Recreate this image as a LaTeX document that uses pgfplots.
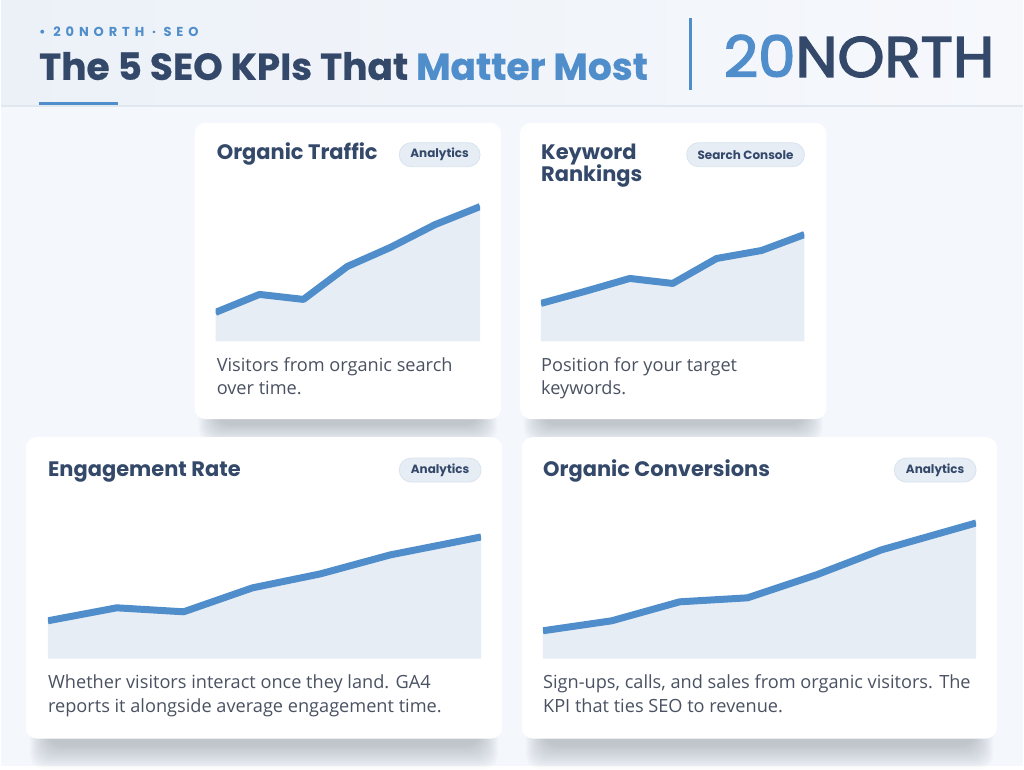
\documentclass[border=0pt]{standalone}
\usepackage{pgfplots}
\pgfplotsset{compat=1.18}
\usepackage{fontspec}
\setmainfont{Open Sans}
\newfontfamily\headfont{Poppins}
\newfontfamily\headfontls{Poppins}[LetterSpace=38]
\definecolor{bg}{HTML}{F4F7FB}
\definecolor{hdrL}{HTML}{ECF1F8}
\definecolor{hdrR}{HTML}{F6F8FC}
\definecolor{hdrline}{HTML}{E1E7EF}
\definecolor{navy}{HTML}{34496A}
\definecolor{blu}{HTML}{4F8DCB}
\definecolor{areac}{HTML}{E6EDF5}
\definecolor{pill}{HTML}{E6EDF5}
\definecolor{pillb}{HTML}{D9E3EE}
\definecolor{txt}{HTML}{4A5262}
\definecolor{shad}{HTML}{1E2A3A}
\pgfplotsset{
  kpi/.style={scale only axis, hide axis, anchor=south west, ymin=0,
    clip=true},
  kline/.style={color=blu, line width=7pt, line join=round, mark=none},
  karea/.style={fill=areac, draw=none, mark=none},
}
\tikzset{
  card/.style={fill=white, draw=none, rounded corners=11pt},
  pillst/.style={fill=pill, draw=pillb, line width=0.8pt, rounded corners=12pt, minimum height=24pt, inner sep=0pt,
    font=\headfont\bfseries\fontsize{12}{13}\selectfont, text=navy},
  ktitle/.style={anchor=base west, inner sep=0pt, font=\headfont\bfseries\fontsize{21}{24}\selectfont, text=navy},
  kdesc/.style={anchor=base west, inner sep=0pt, font=\fontsize{18.2}{22}\selectfont, text=txt},
}
% soft shadow below a card: #1 x0, #2 ybottom, #3 x1, #4 depth scale
\newcommand\cardshadow[4]{%
  \foreach \i in {0,...,14}{%
    \fill[shad, opacity=0.016, rounded corners=14pt]
      ({#1+22-\i*1.3},{#2-6*#4-\i*1.25*#4}) rectangle ({#3-22+\i*1.3},{#2+60});
  }}
\begin{document}
\begin{tikzpicture}[x=1pt,y=1pt]
% background
\fill[bg] (0,0) rectangle (1024,768);
\shade[left color=hdrL, right color=hdrR] (0,662) rectangle (1024,768);
\draw[hdrline, line width=2pt] (0,662) -- (1024,662);
\draw[blu, line width=3pt] (38,664) -- (117,664);
% header text
\node[anchor=west, inner sep=0pt, text=blu, font=\headfontls\bfseries\fontsize{13}{15}\selectfont] at (38,736) {• 20NORTH · SEO};
\node[anchor=base west, inner sep=0pt, text=navy] at (38,688) {\resizebox{610pt}{!}{\headfont\bfseries\fontsize{36}{40}\selectfont\addfontfeatures{FakeBold=0.6}The 5 SEO KPIs That \textcolor{blu}{Matter Most}}};
\draw[blu, line width=2.5pt] (691,750) -- (691,678);
\node[anchor=base west, inner sep=0pt, text=navy] at (724,691) {\resizebox{271pt}{42pt}{\headfont\fontsize{60}{64}\selectfont\addfontfeatures{FakeBold=2.5}\textcolor{blu}{20}NORTH}};
% shadows
\cardshadow{194}{348}{501}{1}
\cardshadow{520}{348}{827}{1}
\cardshadow{25}{28}{502}{1.3}
\cardshadow{522}{28}{998}{1.3}
% cards
\path[card] (194,348) rectangle (501,645);
\path[card] (520,348) rectangle (827,645);
\path[card] (25,28) rectangle (502,330);
\path[card] (522,28) rectangle (998,330);
% card 1
\begin{axis}[kpi, at={(215,426)}, width=265pt, height=150pt, xmin=215, xmax=480, ymax=150]
\addplot[karea] coordinates {(215,29) (259,47) (303,42) (347,75) (390,94) (435,117) (480,135)} \closedcycle;
\addplot[kline] coordinates {(215,29) (259,47) (303,42) (347,75) (390,94) (435,117) (480,135)};
\end{axis}
% card 2
\begin{axis}[kpi, at={(541,426)}, width=264pt, height=150pt, xmin=541, xmax=805, ymax=150]
\addplot[karea] coordinates {(541,38) (585,50) (630,63) (673,58) (717,83) (762,91) (805,107)} \closedcycle;
\addplot[kline] coordinates {(541,38) (585,50) (630,63) (673,58) (717,83) (762,91) (805,107)};
\end{axis}
% card 3
\begin{axis}[kpi, at={(47,108)}, width=434pt, height=160pt, xmin=47, xmax=481, ymax=160]
\addplot[karea] coordinates {(47,38) (116,51) (183,47) (252,71) (320,85) (390,104) (481,122)} \closedcycle;
\addplot[kline] coordinates {(47,38) (116,51) (183,47) (252,71) (320,85) (390,104) (481,122)};
\end{axis}
% card 4
\begin{axis}[kpi, at={(543,108)}, width=434pt, height=160pt, xmin=543, xmax=977, ymax=160]
\addplot[karea] coordinates {(543,28) (612,38) (680,57) (748,61) (817,84) (882,109) (977,136)} \closedcycle;
\addplot[kline] coordinates {(543,28) (612,38) (680,57) (748,61) (817,84) (882,109) (977,136)};
\end{axis}
% titles
\node[ktitle] at (216,608) {Organic Traffic};
\node[ktitle] at (541,608) {Keyword};
\node[ktitle] at (541,586) {Rankings};
\node[ktitle] at (47,291) {Engagement Rate};
\node[ktitle] at (543,291) {Organic Conversions};
% pills
\node[pillst, minimum width=81pt] at (439.5,613) {Analytics};
\node[pillst, minimum width=118pt] at (746,613) {Search Console};
\node[pillst, minimum width=82pt] at (440,297) {Analytics};
\node[pillst, minimum width=82pt] at (936,297) {Analytics};
% descriptions
\node[kdesc] at (216,396) {Visitors from organic search};
\node[kdesc] at (216,373) {over time.};
\node[kdesc] at (541,396) {Position for your target};
\node[kdesc] at (541,373) {keywords.};
\node[kdesc] at (47,78) {Whether visitors interact once they land. GA4};
\node[kdesc] at (47,54) {reports it alongside average engagement time.};
\node[kdesc] at (543,78) {Sign-ups, calls, and sales from organic visitors. The};
\node[kdesc] at (543,54) {KPI that ties SEO to revenue.};
\end{tikzpicture}
\end{document}
